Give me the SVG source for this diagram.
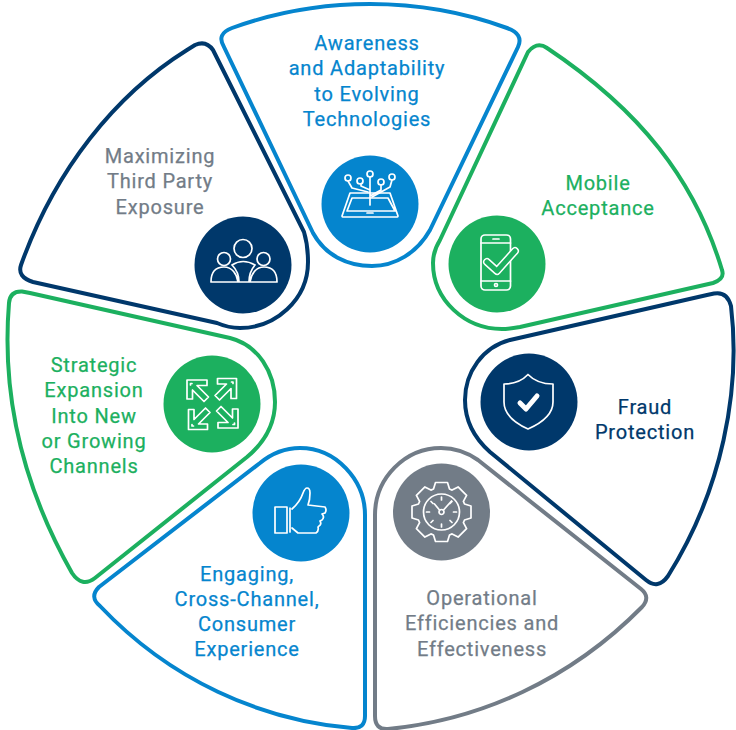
<svg xmlns="http://www.w3.org/2000/svg" width="736" height="730" viewBox="0 0 736 730">
<style>
.seg{fill:#fff;stroke-width:4;stroke-linejoin:round}
.ic{fill:none;stroke:#fff;stroke-width:1.7;stroke-linejoin:round;stroke-linecap:round}
text{font-family:"Roboto","Liberation Sans",sans-serif;font-size:20px;text-anchor:middle;letter-spacing:.8px;stroke-width:.25px}
.blue{fill:#0585ce;stroke:#0585ce}.green{fill:#1cb05f;stroke:#1cb05f}.navy{fill:#00386b;stroke:#00386b}.gray{fill:#727c87;stroke:#727c87}
circle.blue,circle.green,circle.navy,circle.gray{stroke:none}
</style>
<defs>
<g id="expandArrow"><path d="M187,380H207V385.500H197L208.500,397L204,401.500L192.500,390V399H187Z"/><path d="M190.500,383.500h1.500M190.500,383.500v1.500"/></g>
</defs>
<rect width="736" height="730" fill="#fff"/>
<g id="connectors"></g>
<g id="awareness">
<path class="seg" stroke="#0585ce" d="M224,47 Q216,34 232,28 C320,-4 420,-4 507,28 Q524,34 518,47 L430,230 C417,253 395,266 372,266 C347,266 325,255 313,233 Z"/>
<circle class="blue" cx="370" cy="204" r="48.500"/>
<g class="ic"><path d="M350,193H390L398,216Q398,217 396,217H344Q342,217 342,216ZM352,198H388L395,211H347Z"/><path d="M370,205V177M368,192L352,188L348,181M370,190L361,186V184M372,197L390,187L392,180M370,196L381,190V185"/><circle cx="348" cy="178" r="3"/><circle cx="360" cy="181" r="3"/><circle cx="370" cy="174" r="3"/><circle cx="381" cy="182" r="3"/><circle cx="392" cy="177" r="3"/><path d="M367,213H373"/></g>
<text class="blue"><tspan x="367" y="50">Awareness</tspan><tspan x="367" y="75">and Adaptability</tspan><tspan x="367" y="100.500">to Evolving</tspan><tspan x="367" y="126">Technologies</tspan></text>
</g>
<g id="mobile">
<path class="seg" stroke="#1cb05f" d="M547,48 Q537,41 528,52 L440,240 C435,248 433,255 433,263 C433,300 465,329 502,329 C508,329 514,328 520,327 L713,283 Q725,279 722,270 C695,180 640,110 547,48 Z"/>
<circle class="green" cx="497" cy="264" r="48.500"/>
<g class="ic"><rect x="481" y="235" width="29.500" height="55" rx="4"/><path d="M481,243H510.500M481,281H510.500M493,239H499"/><circle cx="496" cy="285" r="1.500"/></g>
<path d="M487,262L497,271L515,251" fill="none" stroke="#fff" stroke-width="8" stroke-linecap="round" stroke-linejoin="round"/>
<path d="M487,262L497,271L515,251" fill="none" stroke="#1cb05f" stroke-width="5" stroke-linecap="round" stroke-linejoin="round"/>
<text class="green"><tspan x="598" y="189.500">Mobile</tspan><tspan x="598" y="215">Acceptance</tspan></text>
</g>
<g id="fraud">
<path class="seg" stroke="#00386b" d="M707,295 L714,293.500 Q727,291 731,306 C741,390 722,490 668,576 Q658,590 646,580 L490,452 C472,436 465,418 465,400 C465,372 483,347 510,340 Z"/>
<circle class="navy" cx="529" cy="402" r="48.500"/>
<g class="ic"><path d="M504,384Q519,384 528,374.500Q537,384 553,384V402Q553,418 528,429Q504,418 504,402Z"/></g>
<path d="M520,403L526,409L537,396" fill="none" stroke="#fff" stroke-width="5" stroke-linecap="round" stroke-linejoin="round"/>
<text class="navy"><tspan x="645" y="413.500">Fraud</tspan><tspan x="645" y="439">Protection</tspan></text>
</g>
<g id="operational">
<path class="seg" stroke="#727c87" d="M375,515 C375,478 405,448 441,448 C455,448 468,453 478,460 L641,589 Q651,597 642,607 C570,680 480,720 388,729 Q375,730 375,716 Z"/>
<circle class="gray" cx="441.500" cy="512" r="48.500"/>
<g class="ic"><g transform="translate(441.500,512)"><polygon points="-8,-23 -6,-29.500 6,-29.500 8,-23 10.600,-21.900 16.600,-25.100 25.100,-16.600 21.900,-10.600 23,-8 29.500,-6 29.500,6 23,8 21.900,10.600 25.100,16.600 16.600,25.100 10.600,21.900 8,23 6,29.500 -6,29.500 -8,23 -10.600,21.900 -16.600,25.100 -25.100,16.600 -21.900,10.600 -23,8 -29.500,6 -29.500,-6 -23,-8 -21.900,-10.600 -25.100,-16.600 -16.600,-25.100 -10.600,-21.900"/><circle r="18"/><circle r="2.500"/><path d="M-2,-2L-7,-8M2,-2L10,-11M0,-15V-12M0,15V12M-15,0H-12M15,0H12M-10.500,-10.500L-8.500,-8.500M10.500,10.500L8.500,8.500M-10.500,10.500L-8.500,8.500M10.500,-10.500L8.500,-8.500"/></g></g>
<text class="gray"><tspan x="482" y="604.500">Operational</tspan><tspan x="482" y="630">Efficiencies and</tspan><tspan x="482" y="655.500">Effectiveness</tspan></text>
</g>
<g id="engaging">
<path class="seg" stroke="#0585ce" d="M100,606 Q89,597 99,587 L260,463 C271,454 284,448 300,448 C336,448 365,480 365,515 V716 Q365,729 352,728 C260,720 170,680 100,606 Z"/>
<circle class="blue" cx="301" cy="513" r="48.500"/>
<g class="ic"><rect x="275" y="507" width="12" height="26"/><path d="M290,508V532"/><path d="M292,509Q300,502 303,493Q305,488 307,488Q310,488 310,493Q310,500 308,505L325,507Q327,510 325,513L322,514Q325,517 322,520L320,521Q322,524 319,526L318,527Q319,531 316,533H298L292,528"/></g>
<text class="blue"><tspan x="247" y="580.500">Engaging,</tspan><tspan x="247" y="605.500">Cross-Channel,</tspan><tspan x="247" y="630.500">Consumer</tspan><tspan x="247" y="655.500">Experience</tspan></text>
</g>
<g id="strategic">
<path class="seg" stroke="#1cb05f" d="M30,293 L22,291.500 Q10,291 9,303 C1,400 25,490 72,573 Q82,588 95,578 L247,457 C265,442 275,423 275,402 C275,372 258,345 230,338 Z"/>
<circle class="green" cx="212" cy="404" r="48.500"/>
<g class="ic"><use href="#expandArrow"/><use href="#expandArrow" transform="rotate(90 212.500 404)"/><use href="#expandArrow" transform="rotate(180 212.500 404)"/><use href="#expandArrow" transform="rotate(270 212.500 404)"/></g>
<text class="green"><tspan x="94" y="371.500">Strategic</tspan><tspan x="94" y="397">Expansion</tspan><tspan x="94" y="422.500">Into New</tspan><tspan x="94" y="447.500">or Growing</tspan><tspan x="94" y="473">Channels</tspan></text>
</g>
<g id="thirdparty">
<path class="seg" stroke="#00386b" d="M187,50 L195,45 Q206,40 213,50 L304,232 C307,242 308,252 308,262 C308,300 275,328 240,328 C232,328 224,326 217,323 L33,282 Q17,277 21,265 C55,170 115,95 187,50 Z"/>
<circle class="navy" cx="243" cy="265" r="48.500"/>
<g class="ic"><circle cx="243" cy="248.500" r="9"/><circle cx="224" cy="259" r="6.500"/><circle cx="263.500" cy="259" r="6.500"/><path d="M211,282C211,272 216,267 224,267C232,267 237,274 238,282ZM250,282C251,274 256,267 264,267C272,267 277,272 277,282ZM232,265Q243,258 255,265M239,282Q239,272 232,265M249,282Q249,272 255,265M238,282H250"/></g>
<text class="gray"><tspan x="160" y="162.500">Maximizing</tspan><tspan x="160" y="188">Third Party</tspan><tspan x="160" y="213.500">Exposure</tspan></text>
</g>
</svg>
